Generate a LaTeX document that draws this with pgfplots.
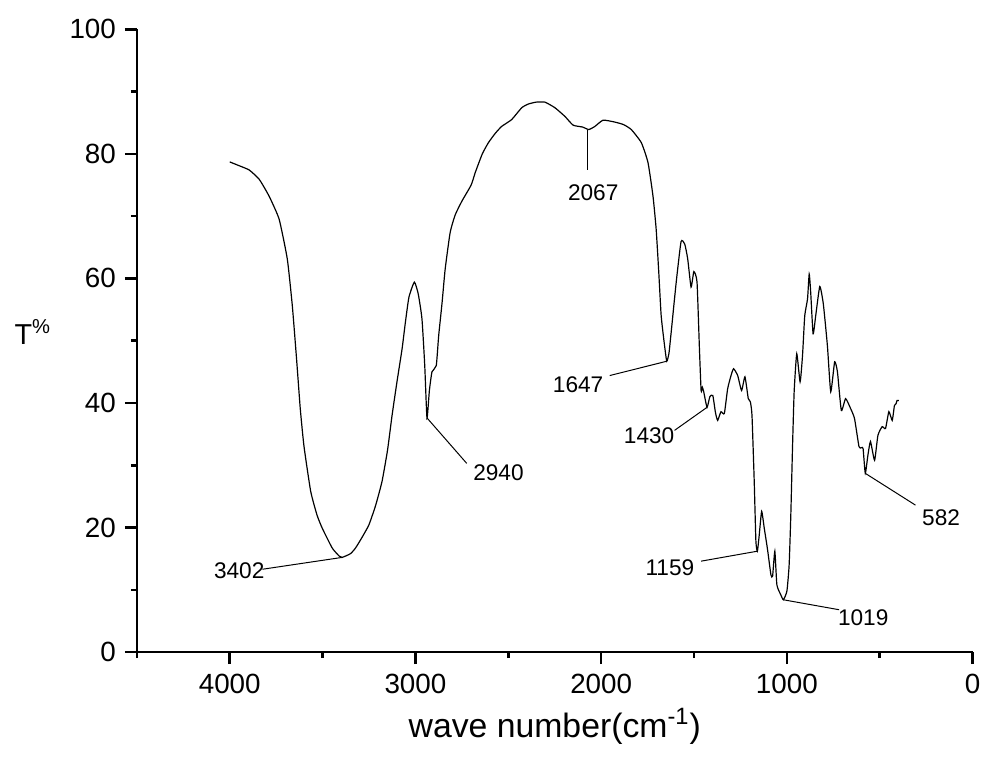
\documentclass[border=0pt]{standalone}
\usepackage{pgfplots}
\pgfplotsset{compat=1.18}
\usepackage{fontspec}
\setmainfont{Liberation Sans}
\begin{document}
\begin{tikzpicture}
\begin{axis}[
  scale only axis,
  width=419.35bp, height=312.5bp,
  x dir=reverse,
  xmin=0, xmax=4500, ymin=0, ymax=100,
  axis lines*=left,
  axis line style={line width=1.3bp, black},
  xtick={0,1000,2000,3000,4000},
  minor xtick={500,1500,2500,3500,4500},
  ytick={0,20,40,60,80,100},
  minor ytick={10,30,50,70,90},
  tick align=outside,
  major tick length=6bp,
  minor tick length=3bp,
  every tick/.style={black, line width=1.3bp},
  tick label style={font=\fontsize{14}{16}\selectfont},
  xticklabel style={yshift=-1.5bp},
  yticklabel style={xshift=-1bp},
  /pgf/number format/assume math mode=true,
  /pgf/number format/set thousands separator={},
  clip=false,
]
\addplot[black, line width=0.6bp, smooth, tension=0.3] coordinates {
(4000,78.7) (3950,78.1) (3895,77.4) (3841,75.9) (3788,73.2) (3734,69.5)
(3690,63.1) (3663,55.6) (3640,47) (3620,39) (3600,33) (3564,25.8)
(3530,22) (3502,19.9) (3448,16.7) (3410,15.4) (3395,15.2) (3350,15.8)
(3323,16.7) (3290,18.3) (3251,20.4) (3215,23.5) (3180,27.4) (3150,32.5)
(3126,38.0) (3100,43.3) (3072,48.7) (3054,53) (3035,57) (3006,59.4)
(2985,57.5) (2965,53.5) (2950,46) (2938,37.6) (2925,42) (2911,45.0)
(2888,46.0) (2875,50.8) (2857,56) (2840,61.5) (2813,67.4) (2786,70.2)
(2750,72.4) (2700,75) (2678,77) (2640,80) (2607,81.8) (2570,83.3)
(2536,84.4) (2482,85.5) (2428,87.4) (2392,88.0) (2350,88.3) (2303,88.3)
(2249,87.4) (2195,86.0) (2151,84.6) (2100,84.3) (2067,83.9) (2034,84.4)
(1990,85.4) (1927,85.1) (1880,84.7) (1838,83.9) (1784,81.8) (1748,78.6)
(1721,73.2) (1704,67.9) (1690,61) (1677,54.0) (1660,49.5) (1647,46.7)
(1635,48) (1623,51.4) (1596,59.4) (1570,65.9) (1550,65.5) (1534,63.1)
(1516,58.6) (1501,61.1) (1484,59.4) (1471,48.7) (1462,42.0) (1455,42.5)
(1448,41.8) (1430,39.3) (1415,41.0) (1399,41.2) (1385,38.5) (1373,37.2)
(1355,38.6) (1337,38.3) (1319,42.3) (1300,44.5) (1287,45.5) (1265,44.4)
(1244,42.0) (1226,44.2) (1208,40.7) (1197,40.2) (1188,38) (1176,27.4)
(1167,17.8) (1159,16.2) (1149,18.8) (1136,22.6) (1122,19.9) (1104,16.4)
(1086,12.4) (1077,12.2) (1065,16.2) (1054,10.8) (1033,9.2) (1019,8.4)
(1000,9.8) (988,14.0) (979,22.0) (970,32.7) (961,41.8) (947,47.9)
(929,43.4) (916,47.6) (904,54.0) (889,56.7) (880,60.7) (872,57.8)
(859,51.1) (845,54.0) (823,58.7) (804,55.9) (782,49.2) (764,41.8)
(743,46.6) (728,45.0) (707,38.8) (684,40.7) (657,39.1) (636,37.5)
(612,33.0) (600,32.8) (590,32.7) (578,28.7) (564,31.6) (550,33.8)
(528,30.8) (510,34.8) (487,36.2) (469,35.9) (451,38.6) (433,37.2)
(421,39.6) (412,39.9) (407,40.4) (397,40.4)
};
% annotations
\begin{scope}[line width=0.5bp, black, every node/.style={font=\fontsize{11.4}{13}\selectfont}]
\draw (axis cs:3395,15.2) -- (axis cs:3824,13.3);
\node at (axis cs:3949,13.0) {3402};
\draw (axis cs:2938,37.6) -- (axis cs:2724,30.3);
\node at (axis cs:2553,28.8) {2940};
\draw (axis cs:2075,83.9) -- (axis cs:2075,77.4);
\node at (axis cs:2043,73.8) {2067};
\draw (axis cs:1647,46.7) -- (axis cs:1954,44.4);
\node at (axis cs:2124,42.9) {1647};
\draw (axis cs:1430,39.3) -- (axis cs:1605,35.6);
\node at (axis cs:1742,34.8) {1430};
\draw (axis cs:1159,16.2) -- (axis cs:1462,14.6);
\node at (axis cs:1630,13.6) {1159};
\draw (axis cs:1019,8.4) -- (axis cs:719,6.8);
\node at (axis cs:589,5.5) {1019};
\draw (axis cs:578,28.7) -- (axis cs:308,23.6);
\node at (axis cs:170,21.5) {582};
\end{scope}
\node at (axis cs:5060,51.4) {\fontsize{14.5}{16}\selectfont T\textsuperscript{\%}};
\node at (axis cs:2250,-11.9) {\fontsize{17}{19}\selectfont wave number(cm\textsuperscript{-1})};
\path (axis cs:5237,104.7) rectangle (axis cs:-60.7,-16.9);
\end{axis}
\end{tikzpicture}
\end{document}
